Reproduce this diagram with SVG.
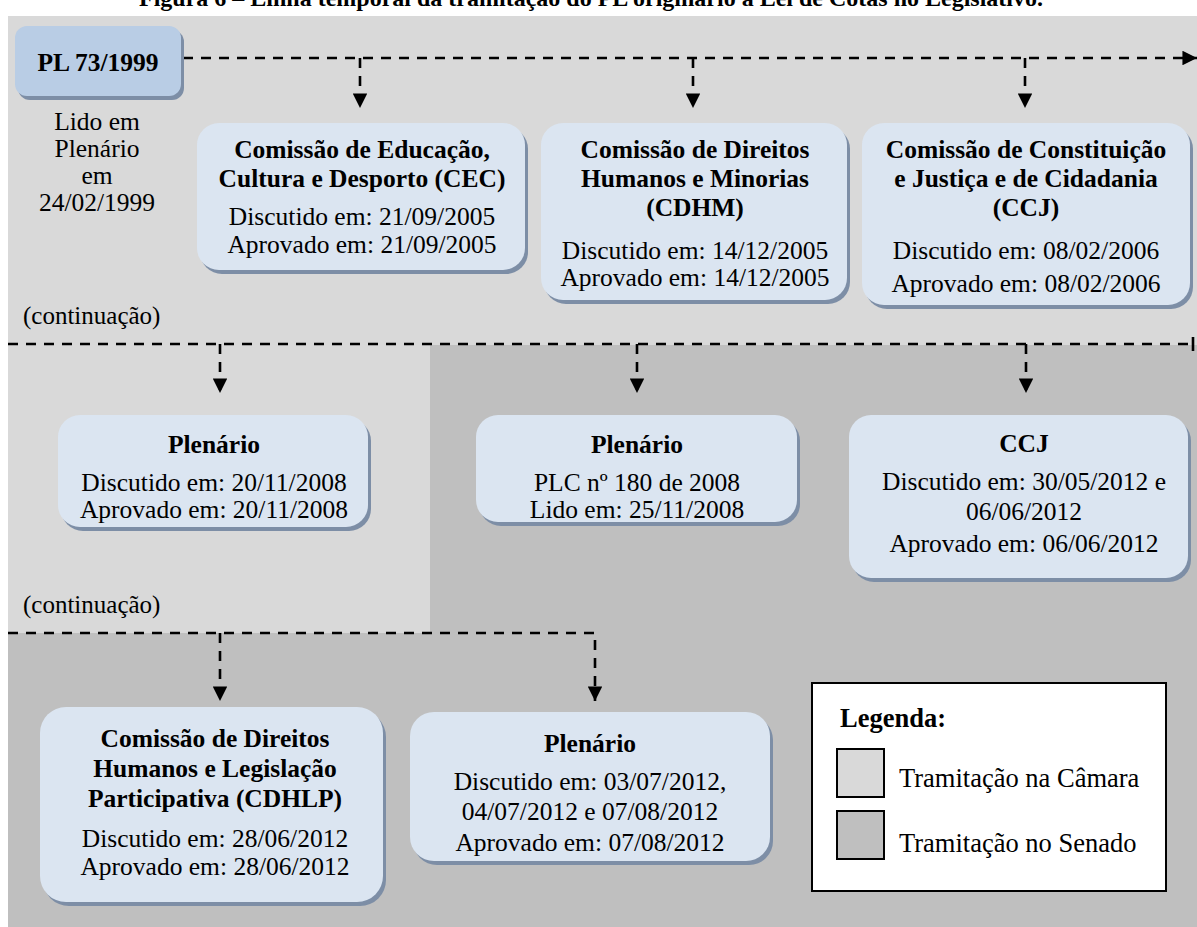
<svg xmlns="http://www.w3.org/2000/svg" width="1197" height="927" viewBox="0 0 1197 927">
  <style>
    text { font-family: "Liberation Serif", "Times New Roman", serif; fill: #000; }
    .b { font-weight: bold; }
    .t { font-size: 25.5px; text-anchor: middle; }
    .s { font-size: 25px; }
    .lg { font-size: 26.5px; }
    .card { fill: #dbe5f1; }
    .shadow { fill: #7d8ea6; }
    .flow { fill: none; stroke: #000; stroke-width: 2.6; stroke-dasharray: 10 8; }
  </style>
  <defs>
    <marker id="tri" viewBox="0 0 10 10" refX="10" refY="5" markerWidth="5.6" markerHeight="5.6" orient="auto" markerUnits="strokeWidth">
      <path d="M0,0 L10,5 L0,10 Z" fill="#000"/>
    </marker>
  </defs>

  <rect x="0" y="0" width="1197" height="927" fill="#fff"/>
  <text class="b" x="591" y="6" font-size="24" text-anchor="middle">Figura 6 – Linha temporal da tramitação do PL originário à Lei de Cotas no Legislativo.</text>

  <!-- chamber (light) and senate (dark) backgrounds -->
  <g id="backgrounds">
    <path d="M8,16 H1197 V345 H430 V633 H8 Z" fill="#d9d9d9"/>
    <path d="M430,345 H1197 V633 H430 Z" fill="#bfbfbf"/>
    <rect x="8" y="633" width="1189" height="294" fill="#bfbfbf"/>
  </g>

  <g id="connectors">
    <path class="flow" d="M183,58 H1197" marker-end="url(#tri)"/>
    <path class="flow" d="M360,58 V108" marker-end="url(#tri)"/>
    <path class="flow" d="M693,58 V108" marker-end="url(#tri)"/>
    <path class="flow" d="M1025,58 V108" marker-end="url(#tri)"/>

    <path class="flow" d="M8,344 H1192"/>
    <line x1="1193" y1="337" x2="1193" y2="351" stroke="#000" stroke-width="2.6"/>
    <path class="flow" d="M220,344 V393" marker-end="url(#tri)"/>
    <path class="flow" d="M637,344 V393" marker-end="url(#tri)"/>
    <path class="flow" d="M1026,344 V393" marker-end="url(#tri)"/>

    <path class="flow" d="M8,633 H595 V701" marker-end="url(#tri)"/>
    <path class="flow" d="M220,633 V701" marker-end="url(#tri)"/>
  </g>

  <g id="pl-73-1999">
    <rect class="shadow" x="18" y="30" width="166" height="70" rx="12"/>
    <rect x="15" y="26" width="166" height="70" rx="12" fill="#b9cde5"/>
    <text class="t b" x="98" y="71">PL 73/1999</text>
    <text class="t" x="97" y="130">Lido em</text>
    <text class="t" x="97" y="157">Plenário</text>
    <text class="t" x="97" y="184">em</text>
    <text class="t" x="97" y="211">24/02/1999</text>
  </g>

  <g id="cec">
    <rect class="shadow" x="200" y="127" width="328" height="147" rx="22"/>
    <rect class="card" x="197" y="123" width="328" height="147" rx="22"/>
    <text class="t b" x="362" y="158">Comissão de Educação,</text>
    <text class="t b" x="362" y="187">Cultura e Desporto (CEC)</text>
    <text class="t" x="362" y="225">Discutido em: 21/09/2005</text>
    <text class="t" x="362" y="253">Aprovado em: 21/09/2005</text>
  </g>

  <g id="cdhm">
    <rect class="shadow" x="544" y="127" width="306" height="177" rx="22"/>
    <rect class="card" x="541" y="123" width="306" height="177" rx="22"/>
    <text class="t b" x="695" y="158">Comissão de Direitos</text>
    <text class="t b" x="695" y="187">Humanos e Minorias</text>
    <text class="t b" x="695" y="216">(CDHM)</text>
    <text class="t" x="695" y="259">Discutido em: 14/12/2005</text>
    <text class="t" x="695" y="286">Aprovado em: 14/12/2005</text>
  </g>

  <g id="ccj-camara">
    <rect class="shadow" x="865" y="127" width="328" height="182" rx="22"/>
    <rect class="card" x="862" y="123" width="328" height="182" rx="22"/>
    <text class="t b" x="1026" y="158">Comissão de Constituição</text>
    <text class="t b" x="1026" y="187">e Justiça e de Cidadania</text>
    <text class="t b" x="1026" y="216">(CCJ)</text>
    <text class="t" x="1026" y="259">Discutido em: 08/02/2006</text>
    <text class="t" x="1026" y="292">Aprovado em: 08/02/2006</text>
  </g>

  <text class="s" x="23" y="324">(continuação)</text>

  <g id="plenario-camara">
    <rect class="shadow" x="61" y="419" width="310" height="112" rx="22"/>
    <rect class="card" x="58" y="415" width="310" height="112" rx="22"/>
    <text class="t b" x="214" y="453">Plenário</text>
    <text class="t" x="214" y="491">Discutido em: 20/11/2008</text>
    <text class="t" x="214" y="518">Aprovado em: 20/11/2008</text>
  </g>

  <g id="plenario-senado-leitura">
    <rect class="shadow" x="479" y="419" width="321" height="107" rx="22"/>
    <rect class="card" x="476" y="415" width="321" height="107" rx="22"/>
    <text class="t b" x="637" y="453">Plenário</text>
    <text class="t" x="637" y="491">PLC nº 180 de 2008</text>
    <text class="t" x="637" y="518">Lido em: 25/11/2008</text>
  </g>

  <g id="ccj-senado">
    <rect class="shadow" x="852" y="419" width="339" height="163" rx="22"/>
    <rect class="card" x="849" y="415" width="339" height="163" rx="22"/>
    <text class="t b" x="1024" y="452">CCJ</text>
    <text class="t" x="1024" y="490">Discutido em: 30/05/2012 e</text>
    <text class="t" x="1024" y="520">06/06/2012</text>
    <text class="t" x="1024" y="552">Aprovado em: 06/06/2012</text>
  </g>

  <text class="s" x="23" y="613">(continuação)</text>

  <g id="cdhlp">
    <rect class="shadow" x="43" y="711" width="343" height="195" rx="26"/>
    <rect class="card" x="40" y="707" width="343" height="195" rx="26"/>
    <text class="t b" x="215" y="747">Comissão de Direitos</text>
    <text class="t b" x="215" y="777">Humanos e Legislação</text>
    <text class="t b" x="215" y="807">Participativa (CDHLP)</text>
    <text class="t" x="215" y="847">Discutido em: 28/06/2012</text>
    <text class="t" x="215" y="875">Aprovado em: 28/06/2012</text>
  </g>

  <g id="plenario-senado">
    <rect class="shadow" x="413" y="716" width="360" height="149" rx="24"/>
    <rect class="card" x="410" y="712" width="360" height="149" rx="24"/>
    <text class="t b" x="590" y="752">Plenário</text>
    <text class="t" x="590" y="790">Discutido em: 03/07/2012,</text>
    <text class="t" x="590" y="820">04/07/2012 e 07/08/2012</text>
    <text class="t" x="590" y="851">Aprovado em: 07/08/2012</text>
  </g>

  <g id="legenda">
    <rect x="812" y="683" width="354" height="208" fill="#fff" stroke="#000" stroke-width="2"/>
    <text class="b lg" x="840" y="727">Legenda:</text>
    <rect x="837" y="749" width="47" height="48" fill="#d9d9d9" stroke="#000" stroke-width="2"/>
    <text class="lg" x="899" y="787">Tramitação na Câmara</text>
    <rect x="837" y="811" width="47" height="48" fill="#bfbfbf" stroke="#000" stroke-width="2"/>
    <text class="lg" x="899" y="852">Tramitação no Senado</text>
  </g>
</svg>
